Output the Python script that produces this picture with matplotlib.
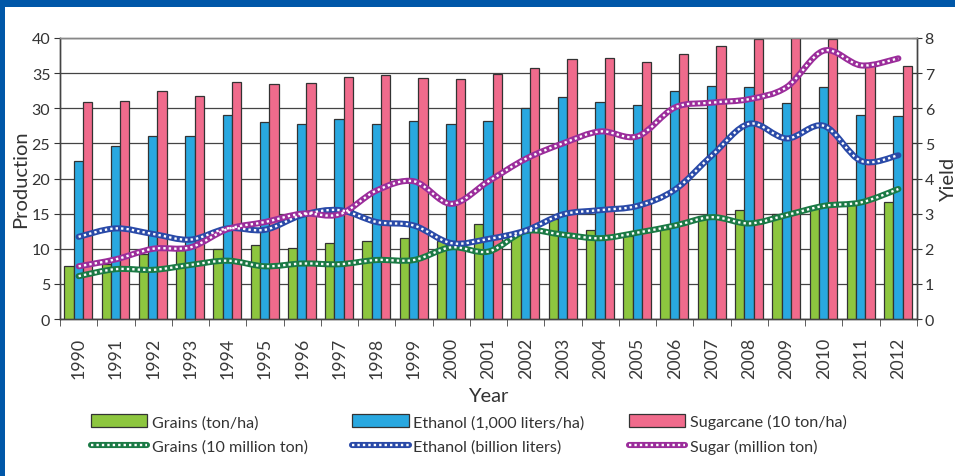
import matplotlib
matplotlib.use("Agg")
import matplotlib.pyplot as plt
from matplotlib.path import Path
from matplotlib.patches import PathPatch, Rectangle
from matplotlib.lines import Line2D
from matplotlib.legend_handler import HandlerTuple
import numpy as np

plt.rcParams['font.family'] = ['Lato', 'DejaVu Sans']

years = [str(y) for y in range(1990, 2013)]

# Bars (Yield axis, right)
grains_yield = [1.52, 1.56, 1.84, 1.96, 2.00, 2.12, 2.02, 2.16, 2.22, 2.30, 2.22, 2.70,
                2.48, 2.84, 2.54, 2.37, 2.56, 2.92, 3.10, 2.98, 3.16, 3.30, 3.32]
ethanol_yield = [4.50, 4.92, 5.22, 5.20, 5.82, 5.60, 5.54, 5.68, 5.56, 5.64, 5.54, 5.64,
                 6.02, 6.32, 6.18, 6.10, 6.50, 6.62, 6.60, 6.16, 6.60, 5.80, 5.78]
sugarcane_yield = [6.18, 6.22, 6.48, 6.36, 6.76, 6.70, 6.72, 6.90, 6.94, 6.86, 6.82, 6.98,
                   7.16, 7.40, 7.42, 7.32, 7.54, 7.78, 7.96, 8.00, 7.98, 7.24, 7.20]

# Lines (Production axis, left)
grains_prod = [6.1, 7.1, 7.0, 7.7, 8.3, 7.5, 7.9, 7.8, 8.4, 8.4, 10.2, 9.6,
               12.5, 12.0, 11.5, 12.3, 13.3, 14.5, 13.6, 14.8, 16.1, 16.6, 18.5]
ethanol_prod = [11.7, 12.9, 12.1, 11.3, 12.9, 12.7, 14.8, 15.5, 13.8, 13.3, 10.8, 11.4,
                12.6, 14.9, 15.5, 16.1, 18.4, 23.3, 27.8, 25.7, 27.5, 22.5, 23.3]
sugar_prod = [7.5, 8.5, 10.0, 10.2, 12.8, 13.8, 15.0, 14.9, 18.3, 19.6, 16.4, 19.6,
              22.8, 25.0, 26.7, 26.0, 30.1, 30.8, 31.3, 33.0, 38.2, 36.1, 37.1]

bar_colors = ['#8dc63f', '#29a8e0', '#f06b8c']
line_colors = ['#1b7a45', '#2a4aa8', '#9b2d9b']

fig = plt.figure(figsize=(9.55, 4.77), dpi=100)
fig.patch.set_facecolor('white')
# blue frame
fig.patches.append(Rectangle((0, 1 - 8 / 477), 1, 8 / 477, transform=fig.transFigure,
                             facecolor='#0057a8', edgecolor='none', zorder=0))
fig.patches.append(Rectangle((0, 0), 5 / 955, 1, transform=fig.transFigure,
                             facecolor='#0057a8', edgecolor='none', zorder=0))

ax = fig.add_axes([60 / 955, 1 - 320 / 477, (917 - 60) / 955, (320 - 39) / 477])
ax2 = ax.twinx()

x = np.arange(len(years))
w = 0.25
offs = [-0.26, -0.01, 0.24]
bar_handles = []
for vals, c, o in zip([grains_yield, ethanol_yield, sugarcane_yield], bar_colors, offs):
    b = ax.bar(x + o, vals, width=w, color=c, edgecolor='#333333', linewidth=0.9, zorder=3)
    bar_handles.append(b)

ax.set_ylim(0, 8)
ax.set_xlim(-0.5, len(years) - 0.5)
ax.set_yticks(range(0, 9))
ax.yaxis.tick_right()
ax.yaxis.set_label_position('right')
ax.grid(axis='y', color='#444444', linewidth=0.9, zorder=0)
ax.set_axisbelow(True)

ax2.set_ylim(0, 40)
ax2.set_yticks(range(0, 41, 5))
ax2.yaxis.tick_left()
ax2.yaxis.set_label_position('left')


def smooth_path(xs, ys):
    pts = np.column_stack([xs, ys]).astype(float)
    n = len(pts)
    verts = [pts[0]]
    codes = [Path.MOVETO]
    for i in range(n - 1):
        p0 = pts[i - 1] if i > 0 else pts[i]
        p1 = pts[i]
        p2 = pts[i + 1]
        p3 = pts[i + 2] if i + 2 < n else pts[i + 1]
        c1 = p1 + (p2 - p0) / 6.0
        c2 = p2 - (p3 - p1) / 6.0
        verts += [c1, c2, p2]
        codes += [Path.CURVE4] * 3
    return Path(verts, codes)


line_handles = []
for vals, c in zip([grains_prod, ethanol_prod, sugar_prod], line_colors):
    p = smooth_path(x, vals)
    ax2.add_patch(PathPatch(p, fill=False, edgecolor=c, linewidth=4.4,
                            capstyle='round', zorder=5))
    ax2.add_patch(PathPatch(p, fill=False, edgecolor='white', linewidth=1.7,
                            linestyle=(0, (1.0, 1.3)), zorder=6))
    h1 = Line2D([], [], color=c, linewidth=4.4, solid_capstyle='round')
    h2 = Line2D([], [], color='white', linewidth=1.7, linestyle=(0, (1.0, 1.3)))
    line_handles.append((h1, h2))

txt = '#333333'
for a in (ax, ax2):
    for s in a.spines.values():
        s.set_color('#444444')
        s.set_linewidth(1.0)
    a.spines['top'].set_color('#888888')

ax.tick_params(axis='y', direction='inout', length=7, labelsize=11.5, colors='#333333',
               labelcolor=txt, pad=2)
ax2.tick_params(axis='y', direction='out', length=4, labelsize=11.5, colors='#333333',
                labelcolor=txt, pad=3)

ax.set_xticks(x)
ax.set_xticklabels(years, rotation=90, fontsize=12.8, color='#3a3a3a')
ax.tick_params(axis='x', which='major', length=0, pad=13)
ax.set_xticks(np.arange(-0.5, len(years), 1.0), minor=True)
ax.tick_params(axis='x', which='minor', length=5, direction='out', color='#444444')

ax.set_xlabel('Year', fontsize=14.5, color=txt, labelpad=6)
ax2.set_ylabel('Production', fontsize=14.5, color=txt, labelpad=2)
ax.set_ylabel('Yield', fontsize=14.5, color=txt, labelpad=4)

labels = ['Grains (ton/ha)', 'Grains (10 million ton)',
          'Ethanol (1,000 liters/ha)', 'Ethanol (billion liters)',
          'Sugarcane (10 ton/ha)', 'Sugar (million ton)']
handles = [bar_handles[0], line_handles[0], bar_handles[1], line_handles[1],
           bar_handles[2], line_handles[2]]
leg = fig.legend(handles, labels, ncol=3, loc='center', bbox_to_anchor=(0.491, 1 - 435 / 477),
                 frameon=False, fontsize=11.6, handlelength=3.5, handleheight=0.85,
                 handletextpad=0.3, columnspacing=2.75, labelspacing=0.56,
                 handler_map={tuple: HandlerTuple(ndivide=1)}, labelcolor=txt)

fig.savefig('out.png', dpi=100)
